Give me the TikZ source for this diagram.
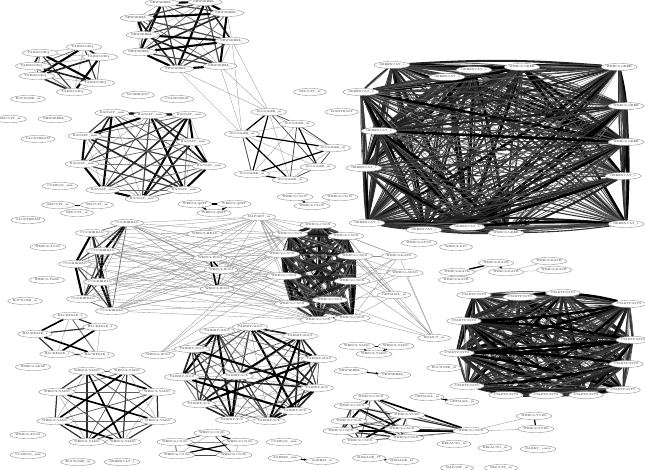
\documentclass[tikz,border=0pt]{standalone}
\usetikzlibrary{shapes.geometric,backgrounds,arrows.meta}
\tikzset{
 nd/.style={ellipse, draw=black!50, line width=0.35pt, fill=white, minimum width=33pt, minimum height=7pt, inner sep=0pt, font=\fontsize{2.8}{3.2}\selectfont, text=black!85},
 thinx/.style={draw=black!45, line width=0.3pt},
 arr/.style={-{Stealth[length=2.6pt,width=2.6pt]}, line width=0.9pt},
}
\newcommand\mkclique[4]{%
 \foreach \i in {1,...,#2}{\foreach \j in {1,...,#2}{%
   \ifnum\i<\j
     \pgfmathtruncatemacro\m{mod(\i*7+\j*13+#3,#4)}%
     \pgfmathsetmacro\lw{0.3+0.45*\m}%
     \pgfmathtruncatemacro\cc{45+55*\m/(#4-1)}%
     \draw[line width=\lw pt, draw=black!\cc] (#1\i) -- (#1\j);
   \fi}}}
\newcommand\mkdense[4]{%
 \foreach \i in {1,...,#2}{\foreach \j in {1,...,#2}{%
   \ifnum\i<\j
     \pgfmathtruncatemacro\m{mod(\i*5+\j*11+#3,#4)}%
     \pgfmathsetmacro\lw{0.4+0.55*\m}%
     \pgfmathtruncatemacro\cc{50+50*\m/(#4-1)}%
     \draw[line width=\lw pt, draw=black!\cc] (#1\i) -- (#1\j);
     \pgfmathtruncatemacro\n{mod(\i*3+\j*7+#3,#4)}%
     \pgfmathsetmacro\lx{0.4+0.55*\n}%
     \pgfmathtruncatemacro\cd{50+50*\n/(#4-1)}%
     \draw[line width=\lx pt, draw=black!\cd] (#1\i) to[bend left=4] (#1\j);
     \pgfmathtruncatemacro\p{mod(\i*11+\j*2+#3,#4)}%
     \pgfmathsetmacro\ly{0.3+0.4*\p}%
     \draw[line width=\ly pt, draw=black!80] (#1\i) to[bend right=3] (#1\j);
   \fi}}}
\begin{document}
\begin{tikzpicture}[x=1pt,y=-1pt]
\useasboundingbox (0,0) rectangle (645,470);
% ---------- clusters ----------
\foreach \x/\y [count=\k] in {84/47,40/53,100/57,33/66,37/76,97/83,74/92}
  {\node[nd] (T\k) at (\x,\y) {TARMSORQ...};}
\foreach \x/\y [count=\k] in {162/3,205/2,227/13,137/18,143/35,232/41,140/52,177/69,220/66}
  {\node[nd] (N\k) at (\x,\y) {NEWSREEL\_};}
\foreach \x/\y [count=\k] in {112/113,150/115,189/115,85/136,193/142,82/164,209/166,103/190,184/190,142/199}
  {\node[nd] (R\k) at (\x,\y) {RANSAT\_mm};}
\foreach \x/\y [count=\k] in {269/112,297/124,242/134,333/148,318/167,252/174,290/180}
  {\node[nd] (G\k) at (\x,\y) {GOOGLER\_m};}
\foreach \x/\y/\t [count=\k] in {392/65/GREENCAT\_s,447/77/GREENCAT\_s,474/70/GREENCAT\_s,522/67/WEBC2-GREE,619/67/WEBC2-GREE,361/92/GREENCAT\_s,626/106/WEBC2-GREE,379/131/GREENCAT\_s,626/142/WEBC2-GREE,364/168/GREENCAT\_s,623/176/GREENCAT\_s,367/223/GREENCAT\_s,424/230/GREENCAT\_s,467/227/GREENCAT\_s,506/233/WEBC2-GREE,626/224/GREENCAT\_s}
  {\node[nd] (C\k) at (\x,\y) {\t};}
\foreach \x/\y [count=\k] in {58/205,97/205,77/213}
  {\node[nd] (b\k) at (\x,\y) {BISCUIT\_m};}
\foreach \x/\y [count=\k] in {195/204,234/204,214/213}
  {\node[nd] (Q\k) at (\x,\y) {WEBC2-QBIT};}
\foreach \x/\y [count=\k] in {295/197,340/197,312/206}
  {\node[nd] (L\k) at (\x,\y) {WEBC2-CLOV};}
\foreach \x/\y [count=\k] in {127/223,92/233,103/251,75/264,100/282,83/299,112/311}
  {\node[nd] (K\k) at (\x,\y) {COOKIEBAG};}
\foreach \x/\y [count=\k] in {210/258,221/270,217/289,158/355}
  {\node[nd] (B\k) at (\x,\y) {WEBC2-BOLI};}
\foreach \x/\y [count=\k] in {318/225,290/234,346/236,282/254,355/256,284/276,352/281,292/304,330/300,318/320,352/318}
  {\node[nd] (W\k) at (\x,\y) {WEBC2-CSON};}
\node[nd] (map) at (259,217) {MAPGET\_m};
\node[nd] (head) at (205,234) {WEBC2-HEAD};
\node[nd] (katl) at (399,256) {WEBC2-KATL};
\node[nd] (adso) at (405,273) {WEBC2-ADSO};
\node[nd] (oet1) at (394,295) {OETMAIL\_m};
\node[nd] (bism) at (434,338) {BISMUT\_m};
\foreach \x/\y [count=\k] in {457/272,456/280,496/263,506/272,549/261,554/270}
  {\node[nd] (V\k) at (\x,\y) {WEBC2-RAVE};}
\foreach \x/\y [count=\k] in {474/295,520/297,563/293,629/304,464/321,633/340,457/353,626/364,467/386,506/395,546/395,586/395,623/390}
  {\node[nd] (S\k) at (\x,\y) {STARTPOSTS};}
\foreach \x/\y [count=\k] in {70/316,100/327,35/334,57/354,97/355}
  {\node[nd] (H\k) at (\x,\y) {HACKFASE\_s};}
\foreach \x/\y [count=\k] in {87/371,127/371,57/392,157/392,55/421,158/421,87/442,123/442}
  {\node[nd] (Y\k) at (\x,\y) {WEBC2-YAHO};}
\foreach \x/\y/\t [count=\k] in {250/327/TARHIP-MGO,217/331/TARHIP-MGO,300/336/TARHIP-MGO,192/349/TARHIP-MGO,319/359/TARHIP-MGO,182/377/TARHIP-MGO,237/376/TARHIP-SCL,317/388/TARHIP-SCL,199/404/TARHIP-SCL,295/411/TARHIP-SCL,232/420/TARHIP-SCL,269/421/TARHIP-SCL}
  {\node[nd] (P\k) at (\x,\y) {\t};}
\foreach \x/\y [count=\k] in {212/433,175/442,240/442,177/455,234/455}
  {\node[nd] (O\k) at (\x,\y) {WEBC2-COOL};}
\foreach \x/\y [count=\k] in {357/346,396/346,374/354}
  {\node[nd] (A\k) at (\x,\y) {WEBC2-YAHO};}
\foreach \x/\y/\t [count=\k] in {371/397/WEBC2-CSON,352/406/WEBC2-CSON,407/415/WEBC2-YVDL,349/421/WEBC2-CSON,341/431/WEBC2-CSON,402/429/WEBC2-CSON,360/441/WEBC2-CSON,406/438/WEBC2-CSON,471/431/WEBC2-CSON}
  {\node[nd] (X\k) at (\x,\y) {\t};}
\node[nd] (yv1) at (534,416) {WEBC2-YVDL};
\node[nd] (yv2) at (536,429) {WEBC2-YVDL};
\node[nd] (nw1) at (351,371) {NEWSREEL\_};
\node[nd] (nw2) at (394,375) {NEWSREEL\_};
\node[nd] (oe1) at (427,397) {OETMAIL\_m};
\node[nd] (oe2) at (462,402) {OETMAIL\_m};
\node[nd] (ag1) at (285,458) {AGRESS\_mm};
\node[nd] (ag2) at (322,461) {AGRESS\_m};
\node[nd] (ms1) at (369,458) {MISSAGE\_77};
\node[nd] (ms2) at (402,461) {MISSAGE\_81};
% ---------- isolated ----------
\foreach \x/\y/\t [count=\k] in {28/99/BOUNCER\_m,10/119/BISCUIT\_m,55/119/NEWSREEL\_,38/139/OLOSTREAM,138/95/MCSHRADO,177/99/COLMORDAI,310/92/BISCUIT\_m,342/112/LIGHTBOLT,60/186/COMBOS\_mm,28/220/OLOSTREAM,48/247/WEBC2-AUSO,47/280/WEBC2-TABL,25/301/BOUNCER\_m,33/367/WEBC2-ARSP,28/435/WEBC2-AUSO,28/455/COMBOS\_mm,78/462/BOUNCER\_m,122/462/GREENCAT\_s,284/442/COMBOS\_mm,419/243/WEBC2-AUSO,456/247/WEBC2-DIV,444/368/BOUNCER\_m,454/444/RELAUTO\_m,495/448/RELAUTO\_m,538/449/DARKY\_comp,457/468/MAPORT\_m,501/468/BISCUIT\_m}
  {\node[nd] (I\k) at (\x,\y) {\t};}
% ---------- edges ----------
\begin{pgfonlayer}{background}
\mkclique{T}{7}{2}{5}
\mkclique{N}{9}{1}{5}
\mkclique{R}{10}{3}{5}
\mkclique{G}{7}{4}{3}
\mkdense{C}{16}{0}{5}
\mkdense{S}{13}{2}{5}
\mkdense{W}{11}{1}{5}
\mkclique{K}{7}{3}{5}
\mkclique{H}{5}{1}{4}
\mkclique{Y}{8}{0}{4}
\mkclique{P}{12}{2}{5}
\mkclique{O}{5}{1}{3}
\mkclique{X}{9}{3}{4}
% cross links
\foreach \a in {N6,N8,N9}{\foreach \b in {G1,G3}{\draw[thinx] (\a) -- (\b);}}
\foreach \a in {K1,K2,K3,K4,K5,K6,K7}{\foreach \b in {W2,W4,W6,W8,W10}{\draw[thinx] (\a) -- (\b);}}
\foreach \a in {K1,K2,K3,K4,K5,K6,K7,W1,W2,W3,W4,W5,W6,W7,W8,W9,W10,W11,B1,B3}{\draw[thinx] (map) -- (\a);}
\foreach \a in {B1,B2,B3}{\foreach \b in {K1,K3,K5,K7,W2,W4,W6,W9,W11}{\draw[thinx] (\a) -- (\b);}}
\draw[line width=1.6pt] (B1) -- (B3); \draw[line width=1.4pt] (B1) -- (B2); \draw[line width=1.2pt] (B2) -- (B3);
\foreach \a in {W1,W3,W5,W7,W9,W11}{\draw[thinx] (\a) -- (bism); \draw[thinx] (\a) -- (katl); \draw[thinx] (\a) -- (oet1);}
\foreach \a in {W2,W4,W6,W8,W10}{\draw[thinx] (\a) -- (B4); \draw[thinx] (\a) -- (adso);}
\draw[thinx] (katl) -- (bism); \draw[thinx] (adso) -- (bism);
\draw[line width=0.5pt] (b1) -- (b2); \draw[thinx] (b1) -- (b3); \draw[thinx] (b2) -- (b3);
\draw[line width=1.2pt] (Q1) -- (Q2);
\draw[arr] (Q1) -- (Q3); \draw[arr] (Q2) -- (Q3);
\draw[arr,line width=0.6pt] (L1) -- (L3); \draw[thinx] (L2) -- (L3);
\draw[line width=1.4pt] (V1) -- (V3); \draw[thinx] (V2) -- (V3);
\draw[arr,line width=0.6pt] (V3) -- (V4);
\draw[thinx] (V4) -- (V5); \draw[thinx] (V4) -- (V6);
\draw[arr] (A1) -- (A3); \draw[arr] (A2) -- (A3); \draw[line width=1pt] (A1) -- (A2);
\draw[arr] (nw1) -- (nw2);
\draw[arr] (oe1) -- (oe2);
\draw[arr] (ag1) -- (ag2);
\draw[arr] (ms1) -- (ms2);
\draw[line width=1.2pt] (yv1) -- (yv2);
\draw[thinx] (yv1) -- (X9); \draw[thinx] (yv2) -- (X9);
\end{pgfonlayer}
\end{tikzpicture}
\end{document}
